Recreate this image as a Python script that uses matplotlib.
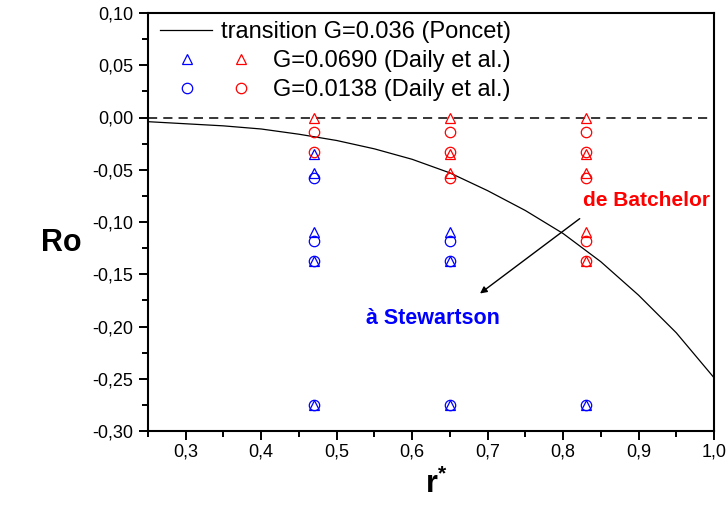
import numpy as np
import matplotlib
matplotlib.use("Agg")
import matplotlib.pyplot as plt
from matplotlib.lines import Line2D
from matplotlib.legend_handler import HandlerTuple
from matplotlib.ticker import MultipleLocator, FuncFormatter

plt.rcParams['font.family'] = ['Liberation Sans', 'DejaVu Sans']
plt.rcParams['mathtext.fontset'] = 'custom'
plt.rcParams['mathtext.rm'] = 'Liberation Sans'
plt.rcParams['mathtext.bf'] = 'Liberation Sans:bold'

### data

# transition curve (Poncet, G=0.036)
r_trans = [0.25, 0.30, 0.35, 0.40, 0.45, 0.50, 0.55, 0.60, 0.65, 0.70, 0.75, 0.80, 0.85, 0.90, 0.95, 1.00]
ro_trans = [-0.004, -0.006, -0.008, -0.011, -0.016, -0.022, -0.030, -0.040, -0.053, -0.070, -0.089, -0.111, -0.138, -0.170, -0.206, -0.249]

# Daily et al. measurements, same Ro values at every r*
r_cols = [0.47, 0.65, 0.83]
ro_tri = [0.0, -0.035, -0.053, -0.110, -0.137, -0.275]     # G=0.0690
ro_circ = [-0.0138, -0.033, -0.058, -0.118, -0.137, -0.275]  # G=0.0138
# how many points (from the top) are red in each column
n_red_tri = [1, 3, 5]
n_red_circ = [2, 3, 5]

blue = '#0000ff'
red = '#ff0000'

fig = plt.figure(figsize=(7.28, 5.12), dpi=100)
ax = fig.add_axes([148/728, 1-431/512, 566/728, 418/512])

ax.plot(r_trans, ro_trans, '-', color='black', lw=0.9)
ax.axhline(0, color='black', lw=1.1, ls=(0, (6, 4)))

def scatter_col(vals, nred, marker):
	for r, n in zip(r_cols, nred):
		ax.plot([r]*n, vals[:n], ls='none', marker=marker, ms=7.5, mfc='none', mec=red, mew=0.9)
		ax.plot([r]*(len(vals)-n), vals[n:], ls='none', marker=marker, ms=7.5, mfc='none', mec=blue, mew=0.9)

scatter_col(ro_tri, n_red_tri, '^')
scatter_col(ro_circ, n_red_circ, 'o')

ax.set_xlim(0.25, 1.0)
ax.set_ylim(-0.30, 0.10)

comma = FuncFormatter(lambda v, p: ('%.1f' % v).replace('.', ','))
commay = FuncFormatter(lambda v, p: ('%.2f' % v).replace('.', ',').replace('-0,00', '0,00'))
ax.xaxis.set_major_locator(MultipleLocator(0.1))
ax.xaxis.set_minor_locator(MultipleLocator(0.05))
ax.yaxis.set_major_locator(MultipleLocator(0.05))
ax.yaxis.set_minor_locator(MultipleLocator(0.025))
ax.xaxis.set_major_formatter(comma)
ax.yaxis.set_major_formatter(commay)
ax.tick_params(which='major', direction='out', length=6.5, width=1.4, labelsize=13)
ax.tick_params(which='minor', direction='out', length=4, width=1.4)
ax.tick_params(axis='y', pad=4)
ax.tick_params(axis='x', pad=2.5)
for s in ax.spines.values():
	s.set_linewidth(1.5)

ax.set_ylabel('Ro', fontsize=22, fontweight='bold', rotation=0, ha='center', va='center')
ax.yaxis.set_label_coords(-0.154, 0.45)
ax.set_xlabel(r'$\mathbf{r}^{\mathbf{*}}$', fontsize=22, va='center')
ax.xaxis.set_label_coords(0.51, -0.128)

# arrow from one regime to the other
ax.annotate('', xy=(0.687, -0.170), xytext=(0.825, -0.0952),
	arrowprops=dict(arrowstyle='-|>', color='black', lw=1.0, mutation_scale=10))
ax.text(0.826, -0.079, 'de Batchelor', color=red, fontsize=15, fontweight='bold', ha='left', va='center')
ax.text(0.628, -0.192, 'à Stewartson', color=blue, fontsize=15.5, fontweight='bold', ha='center', va='center')

# legends
h_line = Line2D([], [], color='black', lw=0.9)
leg1 = ax.legend([h_line], ['transition G=0.036 (Poncet)'], loc='upper left',
	bbox_to_anchor=(0.021, 0.98), frameon=False, fontsize=17,
	handlelength=2.2, handletextpad=0.38, borderpad=0, borderaxespad=0)
ax.add_artist(leg1)

mk = dict(ls='none', ms=7.5, mfc='none', mew=0.9)
h_tri = (Line2D([], [], marker='^', mec=blue, **mk), Line2D([], [], marker='^', mec=red, **mk))
h_circ = (Line2D([], [], marker='o', mec=blue, **mk), Line2D([], [], marker='o', mec=red, **mk))
ax.legend([h_tri, h_circ], ['G=0.0690 (Daily et al.)', 'G=0.0138 (Daily et al.)'],
	handler_map={tuple: HandlerTuple(ndivide=None, pad=0)},
	loc='upper left', bbox_to_anchor=(0.021, 0.912), frameon=False, fontsize=17,
	handlelength=4.58, handletextpad=0.23, borderpad=0, borderaxespad=0, labelspacing=0.3)

fig.savefig('out.png', dpi=100)
